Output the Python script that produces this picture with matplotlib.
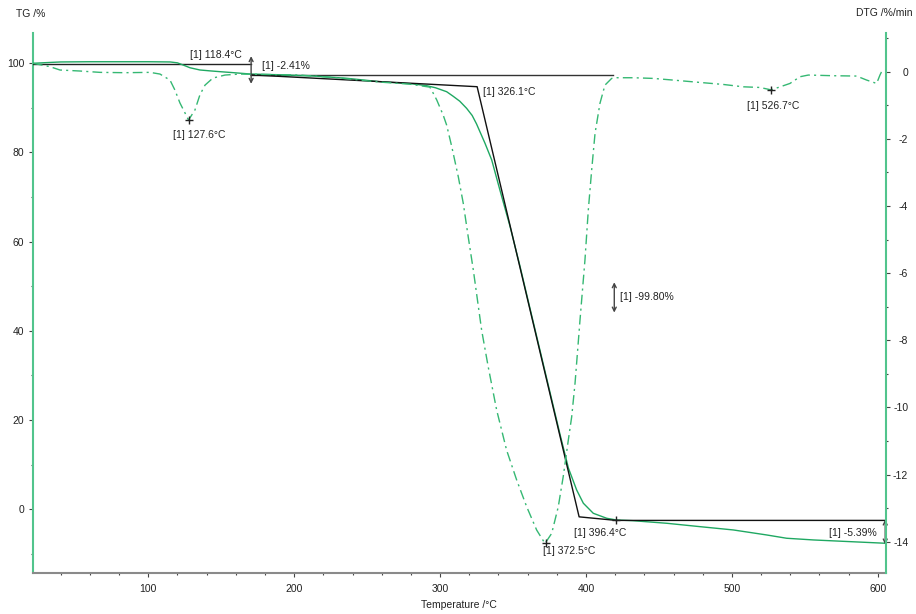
import numpy as np
import matplotlib
matplotlib.use("Agg")
import matplotlib.pyplot as plt
from matplotlib.ticker import MultipleLocator

plt.rcParams['font.family'] = ['Liberation Sans', 'DejaVu Sans']
plt.rcParams['axes.unicode_minus'] = False

# ---- TG curve (left axis, %) ----
tg_T = [21, 30, 40, 60, 80, 100, 115, 120, 124, 128.6, 135.4, 142.3, 150, 158.3,
        169.7, 192.5, 213, 236, 258.8, 281.6, 290.8, 297, 304.5, 309, 313.5, 318.2,
        322, 325, 330.8, 335.4, 341, 347.9, 354.7, 360.5, 373.1, 382.2, 388, 393.6,
        398.2, 405, 414.2, 420.7, 432, 455.3, 478.1, 501, 523.8, 537.5, 555.8, 581, 605]
tg_val = [100.0, 100.15, 100.3, 100.35, 100.35, 100.35, 100.3, 100.1, 99.6, 99.0,
          98.5, 98.3, 98.1, 97.9, 97.6, 97.4, 97.15, 96.64, 95.87, 95.36, 94.98,
          94.5, 93.63, 92.6, 91.5, 89.9, 88.3, 86.4, 82.06, 78.32, 71.59, 63.5, 54.6,
          46.6, 29.3, 16.8, 9.2, 4.33, 1.35, -0.9, -2.02, -2.4, -2.56, -3.14, -3.9,
          -4.64, -5.76, -6.5, -6.88, -7.26, -7.62]

# ---- DTG curve (right axis, %/min) ----
dtg_T = [21.0, 32.6, 39.5, 53.2, 66.9, 84.0, 101.2, 108.0, 114.9, 118.3, 121.7,
         125.2, 127.6, 132.0, 135.4, 138.9, 144.3, 152.6, 162.9, 204, 231.5, 258.9,
         279, 293, 295.3, 297.7, 302.2, 304.5, 308, 312.5, 315.9, 319.3, 322.8,
         326.9, 328.5, 333, 338.8, 345.6, 352.5, 359.4, 366.2, 371.9, 376.5, 381,
         384.4, 387.9, 390.2, 392.5, 394.3, 395.9, 399.3, 401.6, 403.9, 406.2,
         409.6, 413, 417.6, 421, 432.4, 446.1, 459.8, 478.1, 494.1, 507.8, 519.3,
         526.7, 531.8, 539.8, 546.7, 552.4, 569.5, 585.5, 592.4, 599.2, 601.5,
         602.6, 605]
dtg_val = [0.25, 0.15, 0.05, 0.02, -0.02, -0.03, -0.02, -0.07, -0.25, -0.55, -0.93,
           -1.23, -1.44, -1.14, -0.69, -0.4, -0.19, -0.1, -0.07, -0.1, -0.19, -0.31,
           -0.37, -0.46, -0.64, -0.84, -1.3, -1.59, -2.23, -3.13, -3.92, -4.92, -5.91,
           -7.2, -7.7, -8.79, -10.08, -11.27, -12.16, -12.96, -13.65, -14.05, -13.75,
           -12.96, -12.06, -10.97, -10.28, -9.28, -8.29, -7.4, -5.61, -4.12, -2.93,
           -1.84, -0.94, -0.4, -0.2, -0.18, -0.18, -0.2, -0.25, -0.32, -0.38, -0.45,
           -0.47, -0.54, -0.47, -0.35, -0.15, -0.1, -0.12, -0.13, -0.25, -0.35, -0.1,
           0.0, 0.05]

# ---- step analysis (TG) ----
base_T = [20.8, 170.5]
base_val = [99.8, 99.8]
upper_T = [170.5, 418.6]
upper_val = [97.4, 97.4]
tang_T = [170.5, 325.4, 395.3, 420.7, 605.6]
tang_val = [97.4, 94.75, -1.7, -2.5, -2.5]
onset1 = 118.4
onset2 = 326.1
endset2 = 396.4
end_mark_T, end_mark_val = 420.7, -2.4
step_labels = ["[1] -2.41%", "[1] -99.80%", "[1] -5.39%"]

# ---- DTG peaks ----
peak_T = [127.6, 372.5, 526.7]
peak_val = [-1.44, -14.05, -0.54]

# ---- axis ticks ----
x_ticks = [100, 200, 300, 400, 500, 600]
tg_ticks = [0, 20, 40, 60, 80, 100]
dtg_ticks = [0, -2, -4, -6, -8, -10, -12, -14]

GREEN = '#1fa862'
GREEN2 = '#35b873'
SPINE_G = '#52c48c'
FS = 7.5

fig = plt.figure(figsize=(9.16, 6.14), dpi=100)
ax = fig.add_axes([0.0357, 0.0673, 0.9315, 0.8785])
ax2 = ax.twinx()

ax.set_xlim(20.8, 605.6)
ax.set_ylim(-14.22, 106.73)
ax2.set_ylim(-14.92, 1.144)

# curves
ax.plot(tg_T, tg_val, color=GREEN, lw=1.0, zorder=4)
ax2.plot(dtg_T, dtg_val, color=GREEN2, lw=1.0, linestyle=(0, (7, 3, 1.5, 3)), zorder=4)

# step lines
ax.plot(base_T, base_val, color='#222222', lw=1.0, zorder=3)
ax.plot(upper_T, upper_val, color='#333333', lw=1.0, zorder=3)
ax.plot(tang_T, tang_val, color='#111111', lw=1.0, zorder=5)
ax.plot([end_mark_T], [end_mark_val], marker='+', color='#222222', ms=6, mew=1.0, zorder=6)

arrow_kw = dict(arrowstyle='<->', color='#444444', lw=1.0,
                mutation_scale=7, shrinkA=0, shrinkB=0)
ax.annotate('', xy=(170.5, 101.6), xytext=(170.5, 95.4), arrowprops=arrow_kw, zorder=6)
ax.annotate('', xy=(419.4, 50.9), xytext=(419.4, 44.1), arrowprops=arrow_kw, zorder=6)
ax.annotate('', xy=(605.1, -2.3), xytext=(605.1, -7.9), arrowprops=arrow_kw,
            zorder=6, annotation_clip=False)

tcol = '#222222'
ax.text(128.6, 101.9, f"[1] {onset1:.1f}°C", fontsize=FS, color=tcol, va='center', ha='left')
ax.text(178.2, 99.5, step_labels[0], fontsize=FS, color=tcol, va='center', ha='left')
ax.text(329.2, 93.5, f"[1] {onset2:.1f}°C", fontsize=FS, color=tcol, va='center', ha='left')
ax.text(423.3, 47.7, step_labels[1], fontsize=FS, color=tcol, va='center', ha='left')
ax.text(391.8, -5.38, f"[1] {endset2:.1f}°C", fontsize=FS, color=tcol, va='center', ha='left')
ax.text(599.2, -5.38, step_labels[2], fontsize=FS, color=tcol, va='center', ha='right')

# DTG peaks
ax2.plot(peak_T, peak_val, linestyle='none', marker='+', color='#222222', ms=6, mew=1.0, zorder=6)
peak_text_pos = [(116.7, -1.88), (370.7, -14.27), (510.1, -1.02)]
for (tx, ty), t in zip(peak_text_pos, peak_T):
    ax2.text(tx, ty, f"[1] {t:.1f}°C", fontsize=FS, color=tcol, va='center', ha='left')

# spines
for a in (ax, ax2):
    a.spines['top'].set_visible(False)
ax.spines['right'].set_visible(False)
ax2.spines['left'].set_visible(False)
ax2.spines['bottom'].set_visible(False)
ax.spines['left'].set_color(SPINE_G)
ax.spines['left'].set_linewidth(1.5)
ax2.spines['right'].set_color(SPINE_G)
ax2.spines['right'].set_linewidth(1.5)
ax.spines['bottom'].set_color('#8a8a8a')
ax.spines['bottom'].set_linewidth(1.5)

# ticks
ax.set_xticks(x_ticks)
ax.xaxis.set_minor_locator(MultipleLocator(20))
ax.set_yticks(tg_ticks)
ax.yaxis.set_minor_locator(MultipleLocator(10))
ax2.set_yticks(dtg_ticks)
ax2.yaxis.set_minor_locator(MultipleLocator(1))

ax.tick_params(axis='both', which='major', direction='out', length=3, width=0.8,
               color='#444444', labelsize=FS, labelcolor='#222222', pad=3)
ax.tick_params(axis='both', which='minor', direction='out', length=1.5, width=0.8,
               color='#444444')
ax.tick_params(axis='x', which='major', pad=5)
ax2.tick_params(axis='y', which='major', direction='out', length=3, width=0.8,
                color='#444444', labelsize=FS, labelcolor='#222222', pad=13)
ax2.tick_params(axis='y', which='minor', direction='out', length=1.5, width=0.8,
                color='#444444')
for lab in ax2.get_yticklabels():
    lab.set_horizontalalignment('right')

fig.text(16 / 916, 1 - 14 / 614, "TG /%", fontsize=FS, color=tcol, va='center', ha='left')
fig.text(912 / 916, 1 - 13.5 / 614, "DTG /%/min", fontsize=FS, color=tcol, va='center', ha='right')
fig.text(459 / 916, 1 - 605 / 614, "Temperature /°C", fontsize=FS, color=tcol, va='center', ha='center')

fig.savefig("out.png", dpi=100)
